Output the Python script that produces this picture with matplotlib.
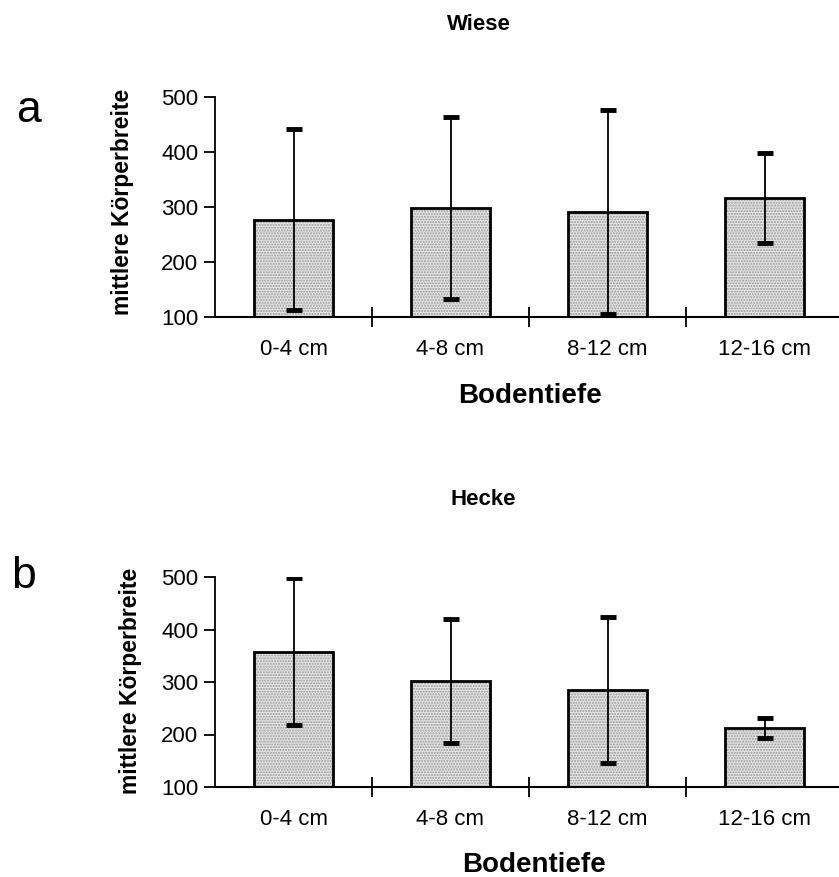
import numpy as np
import matplotlib.pyplot as plt

plt.rcParams["font.family"] = ["Liberation Sans", "DejaVu Sans"]

depths = ["0-4 cm", "4-8 cm", "8-12 cm", "12-16 cm"]

# mittlere Koerperbreite and standard deviation
wiese_mean = [277, 298, 291, 317]
wiese_sd = [164, 166, 186, 82]
hecke_mean = [358, 302, 284, 212]
hecke_sd = [140, 118, 139, 19]

W, H = 839, 877


def draw_panel(rect, means, sd, title, letter, title_xy, letter_xy, ylab_xy, xlab_xy):
    ax = fig.add_axes(rect)
    x = np.arange(len(depths))
    # stippled fill first, black outline on top
    ax.bar(x, means, width=0.5, bottom=0, color="#e4e4e4", edgecolor="#9a9a9a",
           hatch="......", linewidth=0, zorder=2)
    ax.bar(x, means, width=0.5, bottom=0, fill=False, edgecolor="black",
           linewidth=2.0, zorder=3)
    ax.errorbar(x, means, yerr=sd, fmt="none", ecolor="black", elinewidth=1.3,
                capsize=6, capthick=3.5, zorder=4)

    ax.set_xlim(-0.5, 3.5)
    ax.set_ylim(100, 500)
    ax.set_yticks([100, 200, 300, 400, 500])
    ax.set_xticks(x)
    ax.set_xticklabels(depths, fontsize=16)
    ax.set_xticks([0.5, 1.5, 2.5], minor=True)
    ax.tick_params(axis="x", which="major", length=0, pad=16)
    ax.tick_params(axis="x", which="minor", direction="inout", length=14, width=1.3)
    ax.tick_params(axis="y", direction="out", length=8, width=1.3, labelsize=16, pad=4)

    for s in ["top", "right"]:
        ax.spines[s].set_visible(False)
    ax.spines["left"].set_linewidth(1.3)
    ax.spines["bottom"].set_linewidth(1.5)

    fig.text(title_xy[0] / W, 1 - title_xy[1] / H, title, ha="center", va="center",
             fontsize=16, fontweight="bold")
    fig.text(letter_xy[0] / W, 1 - letter_xy[1] / H, letter, ha="center",
             va="baseline", fontsize=32)
    fig.text(ylab_xy[0] / W, 1 - ylab_xy[1] / H, "mittlere Körperbreite", ha="center",
             va="center", rotation=90, fontsize=16.5, fontweight="bold")
    fig.text(xlab_xy[0] / W, 1 - xlab_xy[1] / H, "Bodentiefe", ha="center",
             va="center", fontsize=20, fontweight="bold")
    return ax


fig = plt.figure(figsize=(W / 100, H / 100), dpi=100)

left = 215 / W
width = 628 / W
draw_panel([left, 1 - 317 / H, width, 220 / H], wiese_mean, wiese_sd,
           "Wiese", "a", (479, 25), (28, 122), (123, 202), (530, 396))
draw_panel([left, 1 - 787 / H, width, 210 / H], hecke_mean, hecke_sd,
           "Hecke", "b", (483, 499), (23, 588), (130, 681), (534, 865))

fig.savefig("out.png", dpi=100)
